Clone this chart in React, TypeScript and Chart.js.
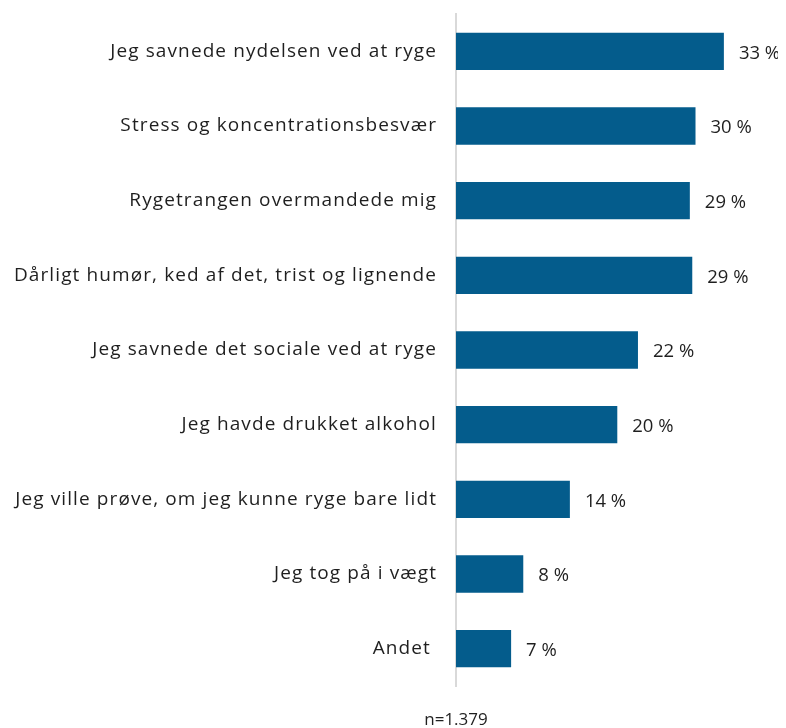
import React, { useEffect, useRef } from "react";
import { Chart, registerables } from "chart.js";

Chart.register(...registerables);

const categories = [
  "Jeg savnede nydelsen ved at ryge",
  "Stress og koncentrationsbesvær",
  "Rygetrangen overmandede mig",
  "Dårligt humør, ked af det, trist og lignende",
  "Jeg savnede det sociale ved at ryge",
  "Jeg havde drukket alkohol",
  "Jeg ville prøve, om jeg kunne ryge bare lidt",
  "Jeg tog på i vægt",
  "Andet ",
];
const values = [33.05, 29.55, 28.85, 29.15, 22.45, 19.9, 14.05, 8.3, 6.8];
const valueLabels = ["33 %", "30 %", "29 %", "29 %", "22 %", "20 %", "14 %", "8 %", "7 %"];
const noteText = "n=1.379";

const FONT = "'Open Sans', Lato, sans-serif";
const BAR_COLOR = "#045c8c";
const TEXT_COLOR = "#1f1f1f";

const spacingPlugin = {
  id: "letterSpacing",
  beforeDraw(chart: any) {
    chart.ctx.letterSpacing = "1.1px";
  },
};

const labelPlugin = {
  id: "valueLabels",
  afterDatasetsDraw(chart: any) {
    const ctx = chart.ctx;
    const meta = chart.getDatasetMeta(0);
    ctx.save();
    ctx.letterSpacing = "0px";
    ctx.font = `18.5px ${FONT}`;
    ctx.fillStyle = TEXT_COLOR;
    ctx.textAlign = "left";
    ctx.textBaseline = "middle";
    meta.data.forEach((bar: any, i: number) => {
      ctx.fillText(valueLabels[i], bar.x + 15, bar.y + 2);
    });
    ctx.textAlign = "center";
    ctx.font = `17px ${FONT}`;
    ctx.fillText(noteText, chart.chartArea.left, chart.height - 8);
    ctx.restore();
  },
};

export default function App() {
  const ref = useRef<HTMLCanvasElement | null>(null);
  useEffect(() => {
    if (!ref.current) return;
    const chart = new Chart(ref.current, {
      type: "bar",
      data: {
        labels: categories,
        datasets: [
          {
            data: values,
            backgroundColor: BAR_COLOR,
            barPercentage: 0.5,
            categoryPercentage: 1,
          },
        ],
      },
      options: {
        indexAxis: "y",
        animation: false,
        responsive: false,
        maintainAspectRatio: false,
        layout: { padding: { top: 6, bottom: 42, right: 14, left: 0 } },
        plugins: {
          legend: { display: false },
          tooltip: { enabled: false },
        },
        scales: {
          x: { display: false, min: 0, max: 38 },
          y: {
            afterFit: (scale: any) => {
              scale.width = 448;
              scale.paddingTop = 0;
              scale.paddingBottom = 0;
            },
            grid: { display: false, drawTicks: false },
            border: { display: true, color: "#d9d9d9", width: 2 },
            ticks: {
              padding: 19,
              color: TEXT_COLOR,
              font: { family: FONT, size: 19 },
            },
          },
        },
      },
      plugins: [spacingPlugin, labelPlugin],
    });
    return () => chart.destroy();
  }, []);
  return (
    <div style={{ width: 770, height: 720 }}>
      <canvas ref={ref} width={770} height={720} style={{ width: 770, height: 720, display: "block" }} />
    </div>
  );
}
